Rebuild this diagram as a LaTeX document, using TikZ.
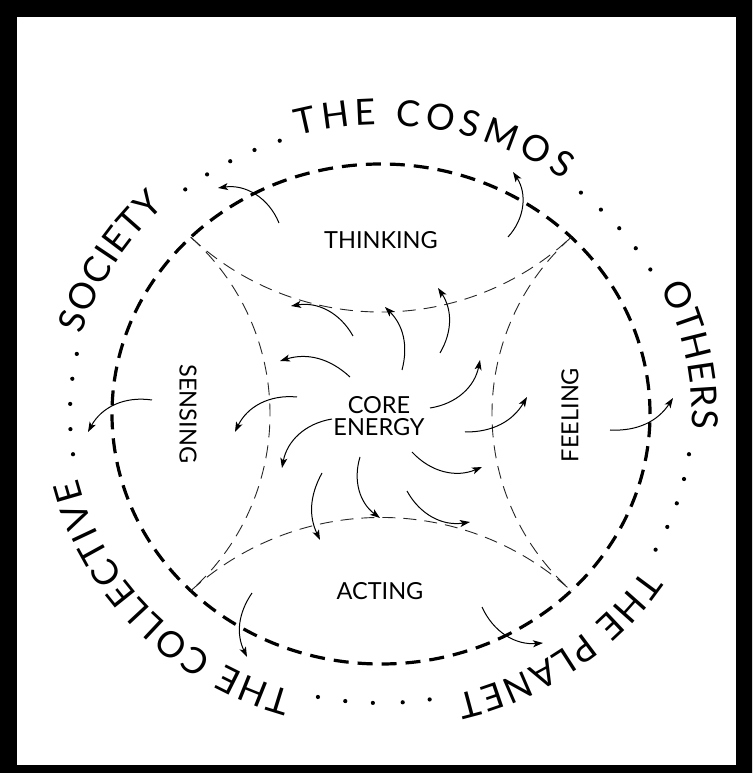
\documentclass[tikz,border=0pt]{standalone}
\usepackage{fontspec}
\usetikzlibrary{arrows.meta,decorations.text}
\newfontfamily\latofam{Lato}
\newcommand\ringfnt{\latofam\fontsize{36pt}{40pt}\selectfont}
\newcommand\labfnt{\latofam\fontsize{23.5pt}{22pt}\selectfont}
\begin{document}
\begin{tikzpicture}[x=1pt,y=1pt,
  bigdash/.style={line width=3.2pt, dash pattern=on 15pt off 9pt},
  thindash/.style={line width=0.9pt, dash pattern=on 13pt off 8pt, black!85},
  swirl/.style={line width=1pt, -{Stealth[length=10pt,width=7pt,inset=2.5pt]}},
  lab/.style={font=\labfnt, inner sep=0pt},
  ringtext/.style={decorate, decoration={text along path, text align=fit to path, text={|\ringfnt|#1}}}
]
\useasboundingbox (-381,414) rectangle (371,-359);
% frame
\fill[even odd rule] (-381,414) rectangle (371,-359) (-364,397) rectangle (355,-351);

% big dashed ellipse
\draw[bigdash] (0,0) ellipse [x radius=269pt, y radius=250pt];

% corners of the lens shapes
\coordinate (TL) at (135:269 and 250);
\coordinate (TR) at (45:269 and 250);
\coordinate (BL) at (225:269 and 250);
\coordinate (BR) at (315:269 and 250);

% lens arcs
\draw[thindash] (TL) arc[start angle=227.06, end angle=312.94, radius=279.2pt];
\draw[thindash] (BL) arc[start angle=132.16, end angle=47.84, radius=283.4pt];
\draw[thindash] (TL) arc[start angle=48.27, end angle=-48.27, radius=236.9pt];
\draw[thindash] (TR) arc[start angle=131.73, end angle=228.27, radius=236.9pt];

% dots on the outer ring
\foreach \t in {50,45,40,35,30,-8,-13,-18,-23,-28,-81,-86,-91.5,-96.6,-101.7,-172,-177,-182,-187,-192,129,124,119,114,109}
  \fill (\t:311 and 289) circle[radius=2.1pt];

% outer ring text
\path[ringtext={THE COSMOS}] (105.5:311 and 289) arc[start angle=105.5, end angle=54, x radius=311pt, y radius=289pt];
\path[ringtext={OTHERS}] (26:311 and 289) arc[start angle=26, end angle=-3, x radius=311pt, y radius=289pt];
\path[ringtext={THE PLANET}] (-32.5:311 and 289) arc[start angle=-32.5, end angle=-76, x radius=311pt, y radius=289pt];
\path[ringtext={THE COLLECTIVE}] (-106.5:311 and 289) arc[start angle=-106.5, end angle=-167, x radius=311pt, y radius=289pt];
\path[ringtext={SOCIETY}] (164:311 and 289) arc[start angle=164, end angle=134, x radius=311pt, y radius=289pt];

% inner labels
\node[lab] (thinking) at (0,174) {THINKING};
\node[lab, rotate=-90] (sensing) at (-193,0) {SENSING};
\node[lab, rotate=90] (feeling) at (189,-1) {FEELING};
\node[lab] (acting) at (-1,-177) {ACTING};
\node[lab, align=center] (core) at (-2,-2) {CORE\\ENERGY};

% swirling arrows
\coordinate (t1) at (-102,191);  \coordinate (h1) at (-163,226);
\coordinate (t2) at (127,177);   \coordinate (h2) at (132,242);
\coordinate (t3) at (-28,78);    \coordinate (h3) at (-90,108);
\coordinate (t4) at (21,44);     \coordinate (h4) at (4,107);
\coordinate (t5) at (59,61);     \coordinate (h5) at (57,126);
\coordinate (t6) at (-31,37);    \coordinate (h6) at (-101,53);
\coordinate (t7) at (-84,17);    \coordinate (h7) at (-146,-18);
\coordinate (t8) at (-229,14);   \coordinate (h8) at (-293,-18);
\coordinate (t9) at (-49,-5);    \coordinate (h9) at (-99,-54);
\coordinate (t10) at (-59,-59);  \coordinate (h10) at (-61,-126);
\coordinate (t11) at (-21,-43);  \coordinate (h11) at (-1,-104);
\coordinate (t12) at (49,6);     \coordinate (h12) at (99,54);
\coordinate (t13) at (84,-18);   \coordinate (h13) at (146,17);
\coordinate (t14) at (229,-16);  \coordinate (h14) at (292,16);
\coordinate (t15) at (31,-38);   \coordinate (h15) at (101,-53);
\coordinate (t16) at (26,-77);   \coordinate (h16) at (89,-108);
\coordinate (t17) at (-129,-179);\coordinate (h17) at (-134,-243);
\coordinate (t18) at (101,-193); \coordinate (h18) at (162,-229);

\draw[swirl] (t1) to[bend right=38] (h1);
\draw[swirl] (t2) to[bend right=38] (h2);
\draw[swirl] (t3) to[bend right=35] (h3);
\draw[swirl] (t4) to[bend right=30] (h4);
\draw[swirl] (t5) to[bend right=32] (h5);
\draw[swirl] (t6) to[bend right=30] (h6);
\draw[swirl] (t7) to[bend right=35] (h7);
\draw[swirl] (t8) to[bend right=35] (h8);
\draw[swirl] (t9) to[bend right=35] (h9);
\draw[swirl] (t10) to[bend right=27] (h10);
\draw[swirl] (t11) to[bend right=35] (h11);
\draw[swirl] (t12) to[bend right=35] (h12);
\draw[swirl] (t13) to[bend right=30] (h13);
\draw[swirl] (t14) to[bend right=30] (h14);
\draw[swirl] (t15) to[bend right=35] (h15);
\draw[swirl] (t16) to[bend right=35] (h16);
\draw[swirl] (t17) to[bend right=30] (h17);
\draw[swirl] (t18) to[bend right=35] (h18);
\end{tikzpicture}
\end{document}
